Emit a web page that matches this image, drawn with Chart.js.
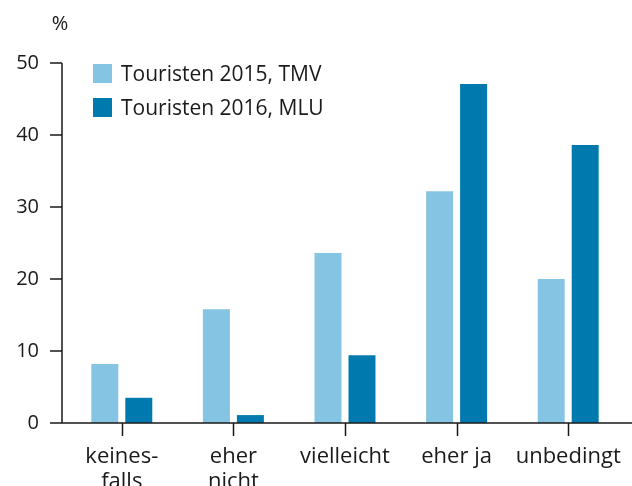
<!DOCTYPE html>
<html>
<head>
<meta charset="utf-8">
<script src="https://cdn.jsdelivr.net/npm/chart.js@4"></script>
<style>
  body { margin: 0; background: #fff; }
  canvas { display: block; }
</style>
</head>
<body>
<canvas id="tourist_chart" width="632" height="486"></canvas>
<script>
const categories = [['keines-', 'falls'], ['eher', 'nicht'], 'vielleicht', 'eher ja', 'unbedingt'];
const series_names = ['Touristen 2015, TMV', 'Touristen 2016, MLU'];
const values_2015 = [8.2, 15.8, 23.6, 32.2, 20.0];
const values_2016 = [3.5, 1.1, 9.4, 47.1, 38.6];
const y_ticks = [0, 10, 20, 30, 40, 50];

const light_blue = 'rgb(133, 197, 227)';
const dark_blue = 'rgb(0, 122, 174)';
const ink = '#1a1a1a';
const font_family = "'Open Sans', 'Noto Sans', sans-serif";

// axes, ticks, legend and unit label drawn by hand
const axis_plugin = {
  id: 'axis_plugin',
  afterDraw: function(chart) {
    const ctx = chart.ctx;
    const x = chart.scales.x;
    const y = chart.scales.y;
    const area = chart.chartArea;
    const axis_x = area.left - 4;
    ctx.save();
    ctx.strokeStyle = ink;
    ctx.lineWidth = 1.5;
    ctx.beginPath();
    ctx.moveTo(axis_x, y.getPixelForValue(50));
    ctx.lineTo(axis_x, area.bottom);
    ctx.moveTo(axis_x - 12, area.bottom);
    ctx.lineTo(chart.width, area.bottom);
    for (let i = 0; i < y_ticks.length; i++) {
      const py = y.getPixelForValue(y_ticks[i]);
      ctx.moveTo(axis_x - 12, py);
      ctx.lineTo(axis_x, py);
    }
    for (let i = 0; i < categories.length; i++) {
      const px = Math.round(x.getPixelForTick(i)) + 0.5;
      ctx.moveTo(px, area.bottom);
      ctx.lineTo(px, area.bottom + 13);
    }
    ctx.stroke();

    // legend
    ctx.font = '21px ' + font_family;
    ctx.textBaseline = 'alphabetic';
    ctx.textAlign = 'left';
    const datasets = chart.data.datasets;
    for (let i = 0; i < datasets.length; i++) {
      const top = 64 + i * 34;
      ctx.fillStyle = datasets[i].backgroundColor;
      ctx.fillRect(93, top, 19, 19);
      ctx.fillStyle = ink;
      ctx.fillText(datasets[i].label, 121, top + 17);
    }

    // unit
    ctx.font = '20px ' + font_family;
    ctx.textAlign = 'center';
    ctx.fillText('%', 60, 30);
    ctx.restore();
  }
};

const data = {
  labels: categories,
  datasets: [{
    label: series_names[0],
    backgroundColor: light_blue,
    data: values_2015
  }, {
    label: series_names[1],
    backgroundColor: dark_blue,
    data: values_2016
  }]
};

const config = {
  type: 'bar',
  data: data,
  options: {
    responsive: false,
    animation: false,
    layout: {
      padding: { top: 63, right: 8, left: 0, bottom: 0 }
    },
    datasets: {
      bar: {
        categoryPercentage: 0.609,
        barPercentage: 0.794
      }
    },
    plugins: {
      legend: { display: false },
      tooltip: { enabled: false }
    },
    scales: {
      x: {
        grid: { display: false, drawTicks: false },
        border: { display: false },
        ticks: {
          color: ink,
          padding: 22,
          maxRotation: 0,
          autoSkip: false,
          font: { family: font_family, size: 22, lineHeight: 1.1 }
        },
        afterFit: function(scale) {
          scale.height = 63;
          scale.paddingLeft = 0;
          scale.paddingRight = 0;
        }
      },
      y: {
        min: 0,
        max: 50,
        grid: { display: false, drawTicks: false },
        border: { display: false },
        ticks: {
          stepSize: 10,
          color: ink,
          padding: 27,
          font: { family: font_family, size: 20 }
        },
        afterFit: function(scale) {
          scale.width = 66;
          scale.paddingTop = 0;
          scale.paddingBottom = 0;
        }
      }
    }
  },
  plugins: [axis_plugin]
};

const tourist_chart = new Chart(document.getElementById('tourist_chart'), config);
</script>
</body>
</html>
